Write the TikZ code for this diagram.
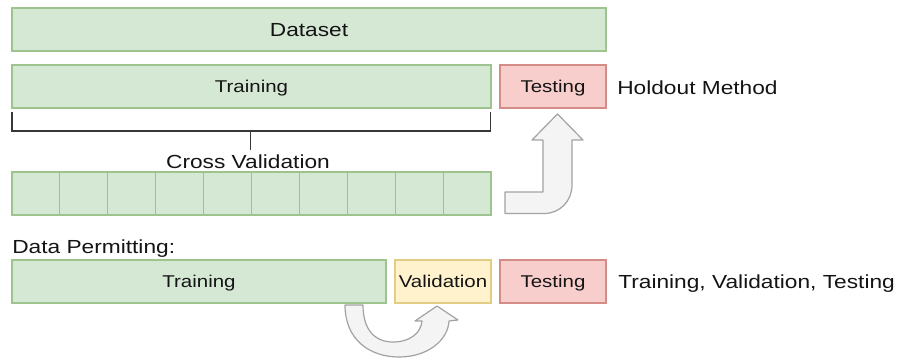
\documentclass[tikz,border=0pt]{standalone}
\usepackage{fontspec}
\setmainfont[FakeStretch=1.2]{Liberation Sans}
\definecolor{ink}{HTML}{141414}
\definecolor{grnF}{HTML}{D5E8D4}
\definecolor{grnD}{HTML}{9DC48E}
\definecolor{redF}{HTML}{F8CECC}
\definecolor{redD}{HTML}{D48C89}
\definecolor{ylwF}{HTML}{FFF2CC}
\definecolor{ylwD}{HTML}{E3CC84}
\definecolor{arrF}{HTML}{F4F4F4}
\definecolor{arrD}{HTML}{A2A2A2}
\begin{document}
\begin{tikzpicture}[x=0.75pt,y=-0.75pt,
  bigfont/.style={font=\fontsize{14.2}{17}\selectfont},
  smallfont/.style={font=\fontsize{12.8}{15}\selectfont},
  lbl/.style={bigfont, text=ink, inner sep=0pt},
  box/.style={draw, line width=0.8pt, minimum height=32.25pt, inner sep=0pt,
              text=ink, smallfont, text height=9.2pt, text depth=0pt},
  grnbox/.style={box, fill=grnF, draw=grnD},
  redbox/.style={box, fill=redF, draw=redD},
  ylwbox/.style={box, fill=ylwF, draw=ylwD},
  bigarrow/.style={fill=arrF, draw=arrD, line width=0.9pt, line join=round},
  bracket/.style={draw=ink!85, line width=1.4pt}
]
\useasboundingbox (0,0) rectangle (903,360);

% whole dataset
\node[grnbox, bigfont, text height=10.2pt, minimum width=445.5pt] (data) at (309,29.5) {Dataset};

% holdout split
\node[grnbox, minimum width=359.25pt] (trainA) at (251.5,86.5) {Training};
\node[redbox, minimum width=79.5pt] (testA) at (553,86.5) {Testing};
\node[lbl, anchor=base west] (holdout) at (617,94) {Holdout Method};

% bracket over the training part
\coordinate (brL) at (12,112);
\coordinate (brR) at (490.5,112);
\coordinate (brM) at (250.5,131);
\draw[bracket, line join=miter] (brL) |- (brM) -| (brR);
\node[lbl, anchor=base] (cv) at (248,168) {Cross Validation};
\draw[bracket] (brM) -- (brM |- 0,150);

% ten folds
\foreach \i in {1,...,10} {
  \node[grnbox, minimum width=35.925pt] (fold\i) at ({12+47.9*(\i-0.5)},193.5) {};
}

% bent arrow from the folds up to testing
\draw[bigarrow] (505,192) -- (543,192) -- (543,140) -- (532,140) -- (557.5,114)
  -- (583,140) -- (572,140) -- (572,185)
  .. controls (572,201) and (560,213.5) .. (544,213.5) -- (505,213.5) -- cycle;

% three-way split
\node[lbl, anchor=base west] (perm) at (12,253) {Data Permitting:};
\node[grnbox, minimum width=280.5pt] (trainB) at (199,281.5) {Training};
\node[ylwbox, minimum width=72pt] (val) at (443,281.5) {Validation};
\node[redbox, minimum width=79.5pt] (testB) at (553,281.5) {Testing};
\node[lbl, anchor=base west] (tvt) at (618,288) {Training, Validation, Testing};

% turn-around arrow under training and validation
\draw[bigarrow] (345,305) .. controls (345,340) and (370,357) .. (399,357)
  .. controls (428,357) and (448,340) .. (449,321) -- (458,320) -- (437,306)
  -- (415,321) -- (422,321) .. controls (421,333) and (410,342) .. (393,342)
  .. controls (375,342) and (363,330) .. (363,305) -- cycle;
\end{tikzpicture}
\end{document}
